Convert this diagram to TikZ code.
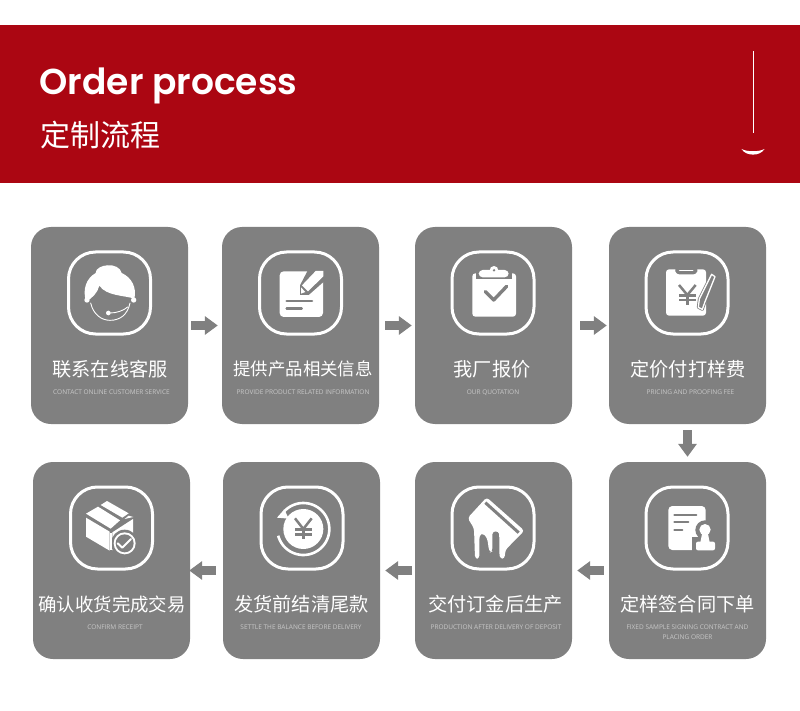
\documentclass[tikz,border=0pt]{standalone}
\usepackage{fontspec}
\usetikzlibrary{arrows.meta}
\newfontfamily\cjk{Noto Sans CJK SC}
\newfontfamily\ttlfont{Poppins SemiBold}
\newfontfamily\subfont{Open Sans}
\definecolor{banner}{HTML}{AB0612}
\definecolor{cardgray}{HTML}{808080}
\definecolor{subgray}{HTML}{C8C8C8}
\tikzset{
  card/.style={fill=cardgray,draw=none,rounded corners=20pt,minimum width=157pt,minimum height=197pt,inner sep=0pt},
  ring/.style={draw=white,line width=3pt,rounded corners=27pt,minimum width=82pt,minimum height=82pt,inner sep=0pt},
  cardtitle/.style={text=white,inner sep=0pt,font=\cjk\fontsize{19.2pt}{23pt}\selectfont},
  cardsub/.style={text=subgray,inner sep=0pt,align=center,font=\subfont\fontsize{6.5pt}{10pt}\selectfont},
  blockarrow/.style={draw=cardgray,line width=8.5pt,-{Triangle[length=13pt,width=18pt,fill=cardgray]}},
  iw/.style={fill=white,draw=none},
  ig/.style={fill=cardgray,draw=none},
  gl/.style={draw=cardgray,line cap=round,line join=round},
  wl/.style={draw=white,line cap=round,line join=round},
  zoomed/.style={x=0.33333pt,y=-0.33333pt},
}
\begin{document}
\begin{tikzpicture}[x=1pt,y=-1pt]
\useasboundingbox (0,0) rectangle (800,711);
\fill[white] (0,0) rectangle (800,711);
\fill[banner] (0,25.5) rectangle (800,183);
\node[anchor=base west,text=white,inner sep=0pt,font=\ttlfont\fontsize{36pt}{40pt}\selectfont] (ttl) at (39.5,95) {Order process};
\node[anchor=west,text=white,inner sep=0pt,font=\cjk\fontsize{30pt}{36pt}\selectfont] (sttl) at (40.5,135) {定制流程};
\draw[white,line width=1pt] (753.5,51) -- (753.5,133);
\fill[white] (741.5,149) .. controls (747,152) and (759,152) .. (764.5,149) .. controls (760,156.5) and (746,156.5) .. (741.5,149) -- cycle;

% cards
\node[card] (c1) at (109.5,325.5) {};
\node[card] (c2) at (300.5,325.5) {};
\node[card] (c3) at (493.5,325.5) {};
\node[card] (c4) at (687.5,325.5) {};
\node[card] (c5) at (687.5,560.5) {};
\node[card] (c6) at (493.5,560.5) {};
\node[card] (c7) at (301.5,560.5) {};
\node[card] (c8) at (111.5,560.5) {};

% rings
\node[ring] (r1) at (109.5,293) {};
\node[ring] (r2) at (300.5,293) {};
\node[ring] (r3) at (493,293) {};
\node[ring] (r4) at (687,293) {};
\node[ring] (r5) at (687,528) {};
\node[ring] (r6) at (493,528) {};
\node[ring] (r7) at (302,528) {};
\node[ring] (r8) at (111.5,528) {};

% titles
\node[cardtitle] (t1) at (110,369) {联系在线客服};
\node[cardtitle,font=\cjk\fontsize{17.4pt}{21pt}\selectfont] (t2) at (303,369) {提供产品相关信息};
\node[cardtitle] (t3) at (492,369) {我厂报价};
\node[cardtitle] (t4) at (688,369) {定价付打样费};
\node[cardtitle] (t5) at (687.5,604) {定样签合同下单};
\node[cardtitle] (t6) at (495.5,604) {交付订金后生产};
\node[cardtitle] (t7) at (301.5,604) {发货前结清尾款};
\node[cardtitle,font=\cjk\fontsize{18.4pt}{22pt}\selectfont] (t8) at (112,604) {确认收货完成交易};

% subtitles
\node[cardsub] (s1) at (111.5,392.5) {CONTACT ONLINE CUSTOMER SERVICE};
\node[cardsub] (s2) at (303,392.5) {PROVIDE PRODUCT RELATED INFORMATION};
\node[cardsub] (s3) at (493,392.5) {OUR QUOTATION};
\node[cardsub] (s4) at (690.5,392.5) {PRICING AND PROOFING FEE};
\node[cardsub,anchor=north] (s5) at (687.5,625) {FIXED SAMPLE SIGNING CONTRACT AND\\PLACING ORDER};
\node[cardsub] (s6) at (496,627.5) {PRODUCTION AFTER DELIVERY OF DEPOSIT};
\node[cardsub] (s7) at (301,627.5) {SETTLE THE BALANCE BEFORE DELIVERY};
\node[cardsub] (s8) at (115,627.5) {CONFIRM RECEIPT};

% connectors
\draw[blockarrow,shorten <=3pt,shorten >=4pt] (c1.east) -- (c2.west);
\draw[blockarrow,shorten <=6pt,shorten >=3pt] (c2.east) -- (c3.west);
\draw[blockarrow,shorten <=8pt,shorten >=2pt] (c3.east) -- (c4.west);
\draw[blockarrow,shorten <=6pt,shorten >=5pt] (c4.south) -- (c5.north);
\draw[blockarrow,shorten <=5pt,shorten >=5pt] ([yshift=-10pt]c5.west) -- ([yshift=-10pt]c6.east);
\draw[blockarrow,shorten <=3pt,shorten >=5pt] ([yshift=-10pt]c6.west) -- ([yshift=-10pt]c7.east);
\draw[blockarrow,shorten <=7pt,shorten >=-1pt] ([yshift=-10pt]c7.west) -- ([yshift=-10pt]c8.east);

% icon 1: headset
\begin{scope}[shift={(75,258)},zoomed]
  \draw[wl,line width=.9pt] (47,135) .. controls (55,170) and (80,187) .. (105,187) .. controls (135,187) and (158,170) .. (165,135);
  \fill[white] (33,130) .. controls (22,95) and (33,62) .. (62,45) .. controls (62,18) and (132,10) .. (140,45) .. controls (170,58) and (186,90) .. (178,122) .. controls (150,112) and (95,115) .. (73,83) .. controls (68,105) and (50,122) .. (33,130) -- cycle;
  \fill[white] (36,126) circle (8);
  \fill[white] (176,126) circle (8);
  \draw[wl,line width=.9pt] (158,147) .. controls (145,158) and (125,165) .. (105,165);
  \fill[white] (100,165) circle (7);
\end{scope}

% icon 2: document and pencil
\begin{scope}[shift={(268,262)},zoomed]
  \fill[white,rounded corners=4pt] (35,28) rectangle (165,165);
  \fill[ig] (120,24) -- (172,24) -- (172,55) -- (122,99) -- (96,99) -- (96,70) -- cycle;
  \fill[white] (143,27) -- (166,27) -- (166,43) -- (120,88) -- (102,70) -- cycle;
  \fill[white] (99,76) -- (112,90) -- (99,95) -- cycle;
  \draw[gl,line width=2.6pt] (56,117) -- (132,117);
  \draw[gl,line width=2.6pt] (56,140) -- (101,140);
\end{scope}

% icon 3: clipboard with check
\begin{scope}[shift={(400,220)},zoomed]
  \fill[white,rounded corners=3pt] (217,160) rectangle (348,290);
  \fill[ig] (228,142) rectangle (336,178);
  \fill[white,rounded corners=4pt] (236,150) rectangle (326,172);
  \fill[white] (282,151) circle (13);
  \fill[cardgray] (282,151) circle (4);
  \draw[gl,line width=3.4pt] (256,215) -- (281,240) -- (320,199);
\end{scope}

% icon 4: priced clipboard and pen
\begin{scope}[shift={(655,260)},zoomed]
  \fill[white,rounded corners=3pt] (33,28) rectangle (153,167);
  \fill[ig,rounded corners=3pt] (58,24) -- (130,24) -- (124,43) -- (64,43) -- cycle;
  \draw[wl,line width=1.6pt] (74,31) -- (113,31);
  \draw[gl,line width=2.5pt,line cap=butt] (72,75) -- (97,105) -- (122,75);
  \draw[gl,line width=2.5pt,line cap=butt] (97,105) -- (97,135);
  \draw[gl,line width=2.5pt,line cap=butt] (72,107) -- (122,107) (72,120) -- (122,120);
  \draw[draw=cardgray,fill=cardgray,line width=3pt,line join=round] (170,43) -- (180,50) -- (150,125) -- (142,148) -- (130,142) -- (133,117) -- cycle;
  \draw[wl,line width=1.3pt] (170,43) -- (180,50) -- (150,125) -- (142,148) -- (130,142) -- (133,117) -- cycle;
\end{scope}

% icon 5: document and stamp
\begin{scope}[shift={(655,495)},zoomed]
  \fill[white,rounded corners=4pt] (40,33) rectangle (152,165);
  \draw[gl,line width=2.2pt] (58,60) -- (124,60);
  \draw[gl,line width=2.2pt] (58,82) -- (100,82);
  \draw[gl,line width=2.2pt] (58,105) -- (82,105);
  \fill[ig] (150,105) circle (29);
  \fill[ig] (112,125) rectangle (190,175);
  \fill[white] (150,104) circle (17);
  \fill[white] (142,112) -- (158,112) -- (164,142) -- (136,142) -- cycle;
  \fill[white,rounded corners=2pt] (123,140) rectangle (180,166);
\end{scope}

% icon 6: card with drips
\begin{scope}[shift={(460,490)},zoomed]
  \fill[white,rounded corners=3pt] (23,84) -- (80,22) -- (193,122) -- (136,180) -- (134,206) -- (120,206) -- (118,190)
     -- (118,140) .. controls (116,122) and (98,122) .. (97,140) -- (97,184) -- (90,188)
     -- (85,172) .. controls (82,130) and (60,125) .. (58,150) -- (58,206) -- (45,206) -- (42,115) -- cycle;
  \draw[gl,line width=3pt,line cap=butt] (76,38) -- (176,128);
\end{scope}

% icon 7: refund
\begin{scope}[shift={(20,455)},zoomed]
  \fill[white] (850,222) circle (60);
  \draw[wl,line width=2.6pt,line cap=butt] plot[domain=-137:165,samples=60,smooth] ({850+78*cos(\x)},{222+78*sin(\x)});
  \fill[white] (793,163) -- (771,188) -- (806,191) -- cycle;
  \draw[gl,line width=2.5pt,line cap=butt] (825,190) -- (850,222) -- (875,190);
  \draw[gl,line width=2.5pt,line cap=butt] (850,222) -- (850,252);
  \draw[gl,line width=2.5pt,line cap=butt] (825,224) -- (875,224) (825,238) -- (875,238);
\end{scope}

% icon 8: parcel
\begin{scope}[shift={(78,495)},zoomed]
  \fill[white] (24,68) -- (95,110) -- (95,167) -- (24,125) -- cycle;
  \fill[white] (103,112) -- (165,72) -- (165,130) -- (103,166) -- cycle;
  \fill[white] (24,56) -- (60,35) -- (126,76) -- (98,101) -- cycle;
  \fill[white] (68,30) -- (87,18) -- (152,55) -- (133,68) -- cycle;
  \fill[white] (140,72) -- (152,62) -- (166,66) -- cycle;
  \fill[cardgray] (140,145) circle (41);
  \fill[white] (97,115) rectangle (103,166);
  \fill[white] (140,145) circle (33);
  \fill[cardgray] (140,145) circle (27);
  \draw[wl,line width=2pt] (119,145) -- (133,158) -- (159,132);
\end{scope}
\end{tikzpicture}
\end{document}
